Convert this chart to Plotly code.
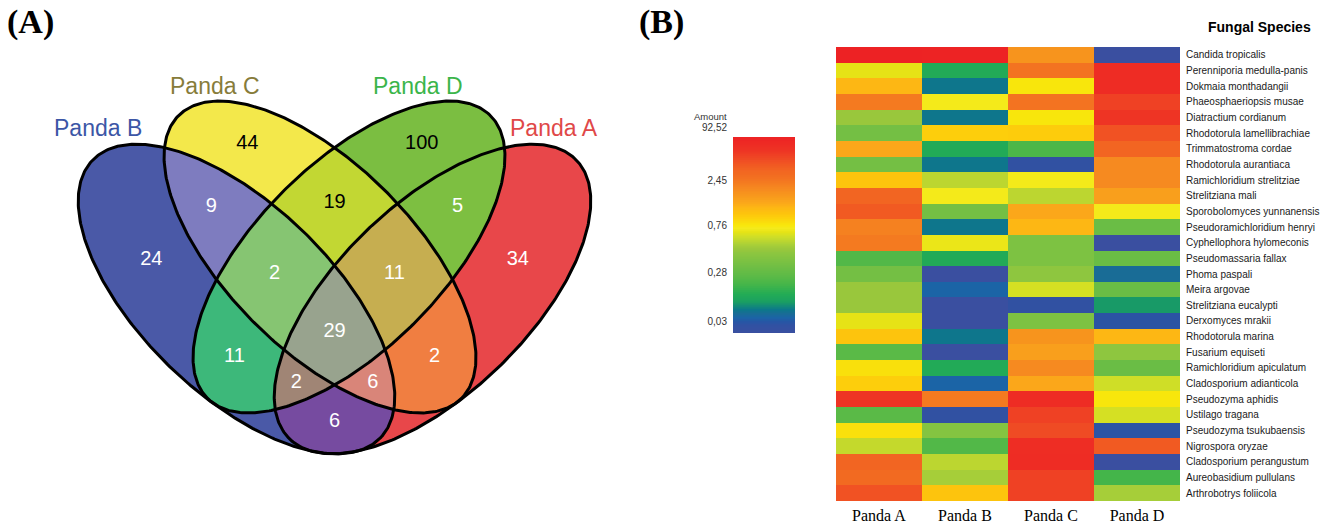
import numpy as np
import plotly.graph_objects as go

# ---------------- Venn diagram data ----------------
set_labels = ["Panda A", "Panda B", "Panda C", "Panda D"]
region_sets = ["A", "B", "C", "D", "AB", "AC", "AD", "BC", "BD", "CD",
               "ABC", "ABD", "ACD", "BCD", "ABCD"]
region_counts = [34, 24, 44, 100, 6, 2, 5, 9, 11, 19, 6, 2, 11, 2, 29]

# ---------------- Heatmap data ----------------
species = [
    "Candida tropicalis", "Perenniporia medulla-panis", "Dokmaia monthadangii",
    "Phaeosphaeriopsis musae", "Diatractium cordianum", "Rhodotorula lamellibrachiae",
    "Trimmatostroma cordae", "Rhodotorula aurantiaca", "Ramichloridium strelitziae",
    "Strelitziana mali", "Sporobolomyces yunnanensis", "Pseudoramichloridium henryi",
    "Cyphellophora hylomeconis", "Pseudomassaria fallax", "Phoma paspali",
    "Meira argovae", "Strelitziana eucalypti", "Derxomyces mrakii",
    "Rhodotorula marina", "Fusarium equiseti", "Ramichloridium apiculatum",
    "Cladosporium adianticola", "Pseudozyma aphidis", "Ustilago tragana",
    "Pseudozyma tsukubaensis", "Nigrospora oryzae", "Cladosporium perangustum",
    "Aureobasidium pullulans", "Arthrobotrys foliicola",
]
samples = ["Panda A", "Panda B", "Panda C", "Panda D"]
amount_panda_a = [92.52, 0.67, 1.22, 2.33, 0.46, 0.33, 1.38, 0.33, 1.05, 5.59,
                  8.45, 2.16, 2.33, 0.20, 0.33, 0.46, 0.46, 0.67, 1.05, 0.23,
                  0.82, 0.95, 29.0, 0.23, 0.82, 0.57, 5.59, 4.02, 10.8]
amount_panda_b = [88.0, 0.10, 0.05, 0.73, 0.05, 0.95, 0.10, 0.05, 0.55, 0.73,
                  0.33, 0.05, 0.69, 0.10, 0.01, 0.036, 0.01, 0.01, 0.05, 0.01,
                  0.10, 0.036, 2.33, 0.02, 0.39, 0.20, 0.55, 0.50, 1.05]
amount_panda_c = [1.73, 2.66, 0.78, 2.66, 0.78, 0.97, 0.18, 0.02, 0.73, 0.55,
                  1.38, 1.22, 0.36, 0.36, 0.43, 0.62, 0.02, 0.36, 1.73, 1.52,
                  1.96, 1.38, 48.0, 19.3, 13.9, 45.0, 48.0, 19.3, 19.3]
amount_panda_d = [0.01, 48.0, 48.0, 19.3, 29.0, 10.8, 5.59, 1.96, 1.96, 1.52,
                  0.73, 0.30, 0.01, 0.30, 0.043, 0.30, 0.07, 0.025, 1.22, 0.43,
                  0.30, 0.60, 0.78, 0.62, 0.025, 8.45, 0.01, 0.16, 0.50]

# colour-scale anchors (amount -> position along the colour bar)
scale_values = [0.01, 0.03, 0.28, 0.76, 2.45, 92.52]
scale_positions = [0.0, 0.06, 0.31, 0.546, 0.78, 1.0]
tick_values = [0.03, 0.28, 0.76, 2.45]
max_value = 92.52

W, H = 1326, 524

amount_colorscale = [
    [0.00, "#3A4FA0"], [0.04, "#3151A2"], [0.06, "#2656A5"], [0.08, "#1B64A6"],
    [0.10, "#196C96"], [0.12, "#0C788A"], [0.16, "#1A9F62"], [0.20, "#23AC55"],
    [0.25, "#46B649"], [0.29, "#5BBA47"], [0.33, "#6CBD45"], [0.37, "#7DC242"],
    [0.41, "#8DC63F"], [0.43, "#9BC73C"], [0.45, "#A8CF38"], [0.47, "#BCD630"],
    [0.49, "#CFDE27"], [0.50, "#D6E022"], [0.515, "#E5E316"], [0.535, "#F4EA1C"],
    [0.55, "#F8E70C"], [0.59, "#FDCE0C"], [0.61, "#FDC40D"], [0.64, "#FDB714"],
    [0.665, "#FBA71A"], [0.685, "#F99F1C"], [0.71, "#F7941D"], [0.735, "#F68A20"],
    [0.77, "#F47A20"], [0.785, "#F37321"], [0.81, "#F26A21"], [0.83, "#F26522"],
    [0.855, "#F15A22"], [0.87, "#F15223"], [0.885, "#EF4B24"], [0.905, "#EF4124"],
    [0.93, "#EE3424"], [0.96, "#EE2C24"], [1.00, "#ED2224"],
]

region_colors = {
    "A": "#E8474A", "B": "#4A59A7", "C": "#F3E84B", "D": "#7BBE41",
    "AB": "#764BA0", "AC": "#F07E41", "AD": "#7DBF41", "BC": "#7E7CBF",
    "BD": "#3DB87A", "CD": "#C2D733", "ABC": "#D98579", "ABD": "#A08575",
    "ACD": "#C6AE50", "BCD": "#86C572", "ABCD": "#98A38E",
}
dark_text_regions = {"C", "D", "CD"}

set_label_style = {
    "A": dict(color="#E04848", x=554, y=128),
    "B": dict(color="#3C56A6", x=98, y=128),
    "C": dict(color="#877C3A", x=215, y=86),
    "D": dict(color="#3BB54A", x=418, y=86),
}

# ellipse geometry in page pixels (y grows downwards)
ellipses = {
    "A": dict(cx=432.5, cy=299.0, a=200.0, b=95.0, ang=136.0),
    "B": dict(cx=236.5, cy=299.0, a=200.0, b=95.0, ang=44.0),
    "C": dict(cx=320.0, cy=257.0, a=200.0, b=93.0, ang=45.0),
    "D": dict(cx=349.0, cy=257.0, a=200.0, b=93.0, ang=135.0),
}


def inside(X, Y, e):
    t = np.deg2rad(e["ang"])
    dx, dy = X - e["cx"], Y - e["cy"]
    u = dx * np.cos(t) + dy * np.sin(t)
    v = -dx * np.sin(t) + dy * np.cos(t)
    return (u / e["a"]) ** 2 + (v / e["b"]) ** 2 <= 1.0


def outline(e, n=400):
    t = np.linspace(0, 2 * np.pi, n)
    r = np.deg2rad(e["ang"])
    x = e["cx"] + e["a"] * np.cos(t) * np.cos(r) - e["b"] * np.sin(t) * np.sin(r)
    y = e["cy"] + e["a"] * np.cos(t) * np.sin(r) + e["b"] * np.sin(t) * np.cos(r)
    return x, y


def set_code(s):
    return sum(1 << "ABCD".index(ch) for ch in s)


fig = go.Figure()

# ---- Venn regions as a membership raster ----
gx = np.arange(60.0, 612.0, 1.0)
gy = np.arange(90.0, 470.0, 1.0)
X, Y = np.meshgrid(gx, gy)
code = np.zeros(X.shape, dtype=int)
for bit, key in enumerate("ABCD"):
    code |= inside(X, Y, ellipses[key]).astype(int) << bit

n_reg = len(region_sets)
zreg = np.full(X.shape, np.nan)
for i, s in enumerate(region_sets):
    zreg[code == set_code(s)] = i

reg_scale = []
for i, s in enumerate(region_sets):
    reg_scale.append([i / n_reg, region_colors[s]])
    reg_scale.append([(i + 1) / n_reg, region_colors[s]])

fig.add_trace(go.Heatmap(
    x=gx, y=gy, z=zreg, zmin=-0.5, zmax=n_reg - 0.5, colorscale=reg_scale,
    showscale=False, hoverinfo="skip", xaxis="x", yaxis="y",
))

for key in "ABCD":
    ex, ey = outline(ellipses[key])
    fig.add_trace(go.Scatter(
        x=ex, y=ey, mode="lines", line=dict(color="black", width=3),
        hoverinfo="skip", xaxis="x", yaxis="y",
    ))

# region counts placed at each region's centroid
lx, ly, lt, lc = [], [], [], []
for i, s in enumerate(region_sets):
    m = code == set_code(s)
    lx.append(X[m].mean())
    ly.append(Y[m].mean())
    lt.append(str(region_counts[i]))
    lc.append("black" if s in dark_text_regions else "white")
fig.add_trace(go.Scatter(
    x=lx, y=ly, mode="text", text=lt,
    textfont=dict(family="Liberation Sans, Arial, sans-serif", size=20, color=lc),
    hoverinfo="skip", xaxis="x", yaxis="y",
))

# set names
for key, name in zip("ABCD", set_labels):
    st = set_label_style[key]
    fig.add_annotation(
        x=st["x"], y=st["y"], xref="x", yref="y", text=name, showarrow=False,
        font=dict(family="Liberation Sans, Arial, sans-serif", size=23, color=st["color"]),
    )

# ---- Heatmap of amounts ----
amounts = np.array([amount_panda_a, amount_panda_b, amount_panda_c, amount_panda_d]).T
log_anchor = np.log(scale_values)
zpos = np.interp(np.log(amounts), log_anchor, scale_positions)

fig.add_trace(go.Heatmap(
    x=samples, y=species, z=zpos, customdata=amounts,
    colorscale=amount_colorscale, zmin=0, zmax=1, showscale=False,
    hovertemplate="%{y}<br>%{x}: %{customdata}<extra></extra>",
    xaxis="x2", yaxis="y2",
))

# ---- Colour bar drawn as its own small heatmap ----
bar_y = np.linspace(0, 1, 300)
fig.add_trace(go.Heatmap(
    x=[0], y=bar_y, z=bar_y.reshape(-1, 1), colorscale=amount_colorscale,
    zmin=0, zmax=1, showscale=False, hoverinfo="skip", xaxis="x3", yaxis="y3",
))
tick_pos = np.interp(np.log(tick_values), log_anchor, scale_positions)
tick_text = [f"{v:.2f}".replace(".", ",") for v in tick_values]

sans = "Liberation Sans, Arial, sans-serif"
serif = "Liberation Serif, Times New Roman, serif"

fig.add_annotation(x=729 / W, y=1 - 116 / H, xref="paper", yref="paper",
                   xanchor="right", yanchor="middle", text="Amount", showarrow=False,
                   font=dict(family=sans, size=9.5, color="#333333"))
fig.add_annotation(x=729 / W, y=1 - 128 / H, xref="paper", yref="paper",
                   xanchor="right", yanchor="middle",
                   text=f"{max_value:.2f}".replace(".", ","), showarrow=False,
                   font=dict(family=sans, size=10, color="#333333"))

# panel tags and heatmap title
fig.add_annotation(x=5 / W, y=1 - 22 / H, xref="paper", yref="paper", xanchor="left",
                   yanchor="middle", text="<b>(A)</b>", showarrow=False,
                   font=dict(family=serif, size=34, color="black"))
fig.add_annotation(x=637 / W, y=1 - 22 / H, xref="paper", yref="paper", xanchor="left",
                   yanchor="middle", text="<b>(B)</b>", showarrow=False,
                   font=dict(family=serif, size=34, color="black"))
fig.add_annotation(x=1313 / W, y=1 - 27 / H, xref="paper", yref="paper", xanchor="right",
                   yanchor="middle", text="<b>Fungal Species</b>", showarrow=False,
                   font=dict(family=sans, size=14, color="black"))

fig.update_layout(
    width=W, height=H, margin=dict(l=0, r=0, t=0, b=0, autoexpand=False),
    paper_bgcolor="white", plot_bgcolor="white", showlegend=False,
    xaxis=dict(domain=[0, 680 / W], range=[0, 680], visible=False, anchor="y",
               automargin=False),
    yaxis=dict(domain=[0, 1], range=[H, 0], visible=False, anchor="x",
               automargin=False),
    xaxis2=dict(domain=[836 / W, 1180 / W], anchor="y2", side="bottom",
                showgrid=False, zeroline=False, ticks="", ticklabelstandoff=3,
                automargin=False,
                tickfont=dict(family=serif, size=16, color="black")),
    yaxis2=dict(domain=[1 - 501 / H, 1 - 47 / H], anchor="x2", side="right",
                autorange="reversed", showgrid=False, zeroline=False, ticks="",
                ticklabelstandoff=5, automargin=False,
                tickfont=dict(family=sans, size=10, color="#1a1a1a")),
    xaxis3=dict(domain=[733 / W, 795 / W], anchor="y3", visible=False,
                range=[-0.5, 0.5], automargin=False),
    yaxis3=dict(domain=[1 - 333 / H, 1 - 137 / H], anchor="x3", range=[0, 1],
                side="left", showgrid=False, zeroline=False, ticks="",
                tickvals=tick_pos, ticktext=tick_text, ticklabelstandoff=5,
                automargin=False,
                tickfont=dict(family=sans, size=10, color="#333333")),
)

fig.write_html("out.html")
